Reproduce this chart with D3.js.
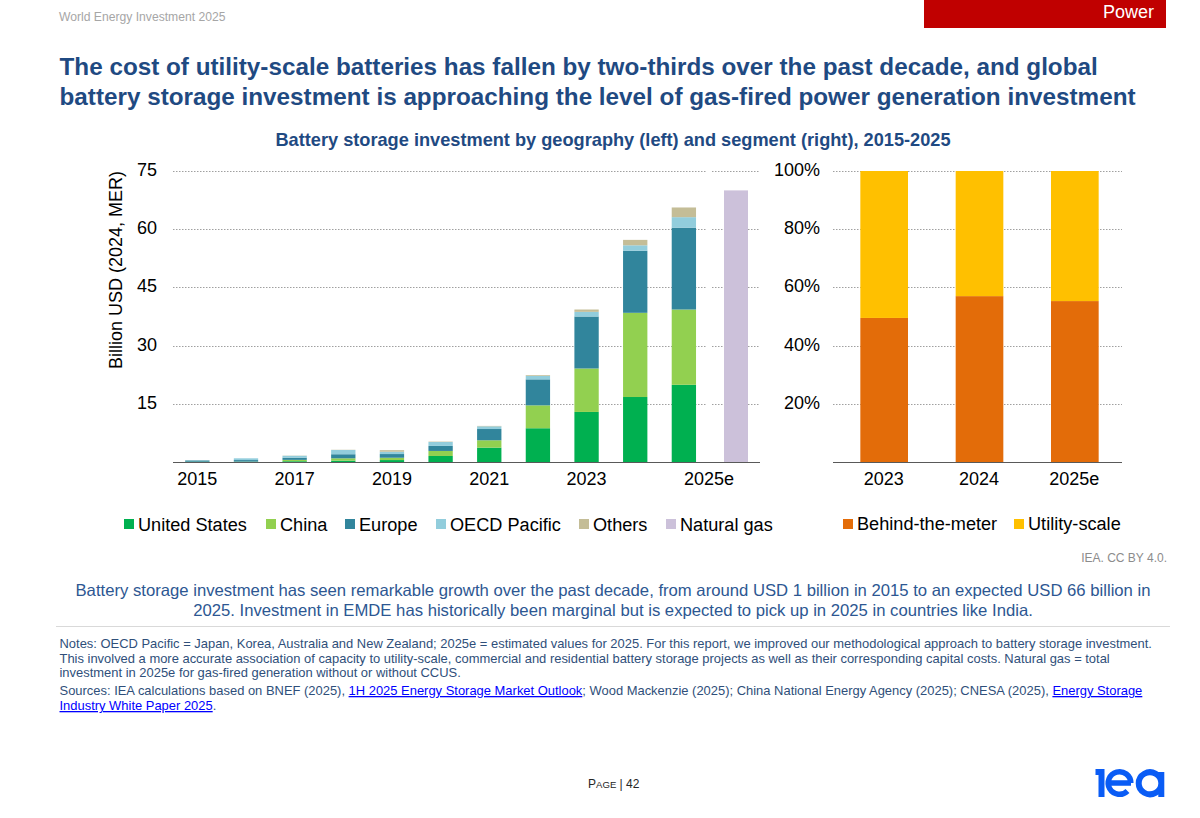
<!DOCTYPE html>
<html><head><meta charset="utf-8">
<script src="https://cdn.jsdelivr.net/npm/d3@7/dist/d3.min.js"></script>
<style>html,body{margin:0;padding:0;background:#fff}svg{display:block}text{font-family:"Liberation Sans",Arial,sans-serif}</style>
</head><body><svg id="c" width="1200" height="818"></svg>
<script>
const years=["2015","2016","2017","2018","2019","2020","2021","2022","2023","2024","2025e"];
const yearLabels=["2015","2017","2019","2021","2023","2025e"];
const unitedStates=[0.05,0.05,0.2,0.35,0.5,1.55,3.7,8.7,12.9,16.75,19.9];
const china=[0.02,0.05,0.35,0.6,0.6,1.3,1.9,5.9,11.2,21.7,19.4];
const europe=[0.33,0.4,0.55,1.05,0.95,1.3,2.9,6.7,13.4,16,21.1];
const oecdPacific=[0.05,0.45,0.5,1.1,0.6,1.0,0.7,0.9,1.2,1.4,2.7];
const others=[0,0,0.05,0.05,0.4,0.1,0.1,0.2,0.6,1.4,2.5];
const naturalGas=[70];
const leftTicks=[15,30,45,60,75];
const segYears=["2023","2024","2025e"];
const behindTheMeter=[49.5,57,55.3];
const utilityScale=[50.5,43,44.7];
const rightTicks=[20,40,60,80,100];
const geoNames=["United States","China","Europe","OECD Pacific","Others"];
const geoColors=["#00b050","#92d050","#31859c","#92cddc","#c4bd97"];
const gasColor="#ccc1da";
const segNames=["Behind-the-meter","Utility-scale"];
const segColors=["#e36c09","#ffc000"];
const geoSeries=[unitedStates,china,europe,oecdPacific,others];
const segSeries=[behindTheMeter,utilityScale];

const svg=d3.select("#c");
const ink="#000",navy="#1f4a82",leadC="#2d5792",noteC="#2f4f7a";
function txt(x,y,s,size,fill,opt={}){return svg.append("text").attr("x",x).attr("y",y).attr("font-size",size).attr("fill",fill)
  .attr("text-anchor",opt.a||"start").attr("font-weight",opt.b?"bold":"normal").text(s);}

// header
txt(59,21,"World Energy Investment 2025",12.15,"#a6a6a6");
svg.append("rect").attr("x",924).attr("y",0).attr("width",242).attr("height",28).attr("fill","#c00000");
txt(1154,18,"Power",18,"#fff",{a:"end"});
txt(59.5,75,"The cost of utility-scale batteries has fallen by two-thirds over the past decade, and global",24.27,navy,{b:1});
txt(59.5,105,"battery storage investment is approaching the level of gas-fired power generation investment",24.27,navy,{b:1});
txt(613,146,"Battery storage investment by geography (left) and segment (right), 2015-2025",18.2,navy,{b:1,a:"middle"});

// left chart
const y=d3.scaleLinear().domain([0,75]).range([462,171]);
const x=d3.scaleBand().domain(years).range([173,708.2]).paddingInner(0.5).paddingOuter(0.25);
const xGas=d3.scaleBand().domain(["Natural gas"]).range([724,748]);
const grid=svg.append("g");
function gridLines(ticks,sc,x0,x1){grid.append("g").selectAll("line").data(ticks).join("line")
  .attr("x1",x0).attr("x2",x1).attr("y1",d=>Math.round(sc(d))+.5).attr("y2",d=>Math.round(sc(d))+.5)
  .attr("stroke","#a0a0a0").attr("stroke-width",1).attr("stroke-dasharray","1.5 1.5");}
gridLines(leftTicks,y,173,707);gridLines(leftTicks,y,712,760);
const stacked=d3.stack().keys(d3.range(5)).value((d,k)=>geoSeries[k][d])(d3.range(years.length));
const gl=svg.append("g");
stacked.forEach((s,k)=>{gl.append("g").selectAll("rect").data(s).join("rect")
  .attr("x",(d,i)=>x(years[i])).attr("width",x.bandwidth())
  .attr("y",d=>y(d[1])).attr("height",d=>y(d[0])-y(d[1])).attr("fill",geoColors[k]);});
gl.selectAll(".gas").data(naturalGas).join("rect").attr("class","gas").attr("x",xGas("Natural gas")).attr("width",xGas.bandwidth())
  .attr("y",d=>y(d)).attr("height",d=>y(0)-y(d)).attr("fill",gasColor);
svg.append("line").attr("x1",173).attr("x2",760).attr("y1",462.5).attr("y2",462.5).attr("stroke","#595959").attr("stroke-width",1.2);
const tickSize=18;
svg.append("g").selectAll("text").data(leftTicks).join("text").attr("x",157).attr("y",d=>y(d)+5).attr("text-anchor","end")
  .attr("font-size",tickSize).attr("fill",ink).text(d=>d);
svg.append("g").selectAll("text").data(yearLabels).join("text")
  .attr("x",d=>d==="2025e"?(x("2025e")+x.bandwidth()/2+xGas("Natural gas")+xGas.bandwidth()/2)/2-1:x(d)+x.bandwidth()/2)
  .attr("y",485).attr("text-anchor","middle").attr("font-size",tickSize).attr("fill",ink).text(d=>d);
svg.append("text").attr("transform","translate(122,270) rotate(-90)").attr("text-anchor","middle").attr("font-size",18).attr("fill",ink).text("Billion USD (2024, MER)");

// right chart
const y2=d3.scaleLinear().domain([0,100]).range([462,171]);
const x2=d3.scaleBand().domain(segYears).range([836.5,1122.5]).paddingInner(0.5).paddingOuter(0.25);
gridLines(rightTicks,y2,833,1122);
const stacked2=d3.stack().keys([0,1]).value((d,k)=>segSeries[k][d])(d3.range(segYears.length));
const gr=svg.append("g");
stacked2.forEach((s,k)=>{gr.append("g").selectAll("rect").data(s).join("rect")
  .attr("x",(d,i)=>x2(segYears[i])).attr("width",x2.bandwidth())
  .attr("y",d=>y2(d[1])).attr("height",d=>y2(d[0])-y2(d[1])).attr("fill",segColors[k]);});
svg.append("line").attr("x1",833).attr("x2",1122).attr("y1",462.5).attr("y2",462.5).attr("stroke","#595959").attr("stroke-width",1.2);
svg.append("g").selectAll("text").data(rightTicks).join("text").attr("x",820).attr("y",d=>y2(d)+5).attr("text-anchor","end")
  .attr("font-size",tickSize).attr("fill",ink).text(d=>d+"%");
svg.append("g").selectAll("text").data(segYears).join("text").attr("x",d=>x2(d)+x2.bandwidth()/2-0.5).attr("y",485).attr("text-anchor","middle")
  .attr("font-size",tickSize).attr("fill",ink).text(d=>d);

// legends
const legLeft=[138,280,359,450,593,680];
geoNames.concat(["Natural gas"]).forEach((n,i)=>{
  svg.append("rect").attr("x",legLeft[i]-14).attr("y",519).attr("width",10).attr("height",10).attr("fill",i<5?geoColors[i]:gasColor);
  txt(legLeft[i],530.5,n,18.15,ink);
});
const legRight=[857,1028];
segNames.forEach((n,i)=>{
  svg.append("rect").attr("x",legRight[i]-14).attr("y",519).attr("width",10).attr("height",10).attr("fill",segColors[i]);
  txt(legRight[i],530,n,18.15,ink);
});
txt(1167,562,"IEA. CC BY 4.0.",12,"#8c8c8c",{a:"end"});

// lead text
txt(613,596,"Battery storage investment has seen remarkable growth over the past decade, from around USD 1 billion in 2015 to an expected USD 66 billion in",16.68,leadC,{a:"middle"});
txt(613,616,"2025. Investment in EMDE has historically been marginal but is expected to pick up in 2025 in countries like India.",16.68,leadC,{a:"middle"});
svg.append("line").attr("x1",56).attr("x2",1170).attr("y1",626.5).attr("y2",626.5).attr("stroke","#d9d9d9").attr("stroke-width",1);

// notes
const ns=12.94;
txt(59.5,648,"Notes: OECD Pacific = Japan, Korea, Australia and New Zealand; 2025e = estimated values for 2025. For this report, we improved our methodological approach to battery storage investment.",ns,noteC);
txt(59.5,663,"This involved a more accurate association of capacity to utility-scale, commercial and residential battery storage projects as well as their corresponding capital costs. Natural gas = total",ns,noteC);
txt(59.5,677,"investment in 2025e for gas-fired generation without or without CCUS.",ns,noteC);
const src=svg.append("text").attr("x",59.5).attr("y",695).attr("font-size",ns).attr("fill",noteC);
src.append("tspan").text("Sources: IEA calculations based on BNEF (2025), ");
src.append("tspan").attr("fill","#0000ff").attr("text-decoration","underline").text("1H 2025 Energy Storage Market Outlook");
src.append("tspan").text("; Wood Mackenzie (2025); China National Energy Agency (2025); CNESA (2025), ");
src.append("tspan").attr("fill","#0000ff").attr("text-decoration","underline").text("Energy Storage");
const src2=svg.append("text").attr("x",59.5).attr("y",710).attr("font-size",ns).attr("fill",noteC);
src2.append("tspan").attr("fill","#0000ff").attr("text-decoration","underline").text("Industry White Paper 2025");
src2.append("tspan").text(".");

// footer
const pg=svg.append("text").attr("x",588).attr("y",788).attr("fill","#262626").attr("font-size",12);
pg.append("tspan").attr("font-size",12).text("P");pg.append("tspan").attr("font-size",9.6).text("AGE");pg.append("tspan").text(" | 42");

// logo
const logoBlue="#0a5cf5";
svg.append("path").attr("fill",logoBlue).attr("d","M1095.5 769H1104.5V797H1098.5V775H1095.5Z");
svg.append("path").attr("fill","none").attr("stroke",logoBlue).attr("stroke-width",5.5).attr("d","M1108 783H1131M1130.8 783A11.3 11.3 0 1 0 1127.5 791");
svg.append("path").attr("fill","none").attr("stroke",logoBlue).attr("stroke-width",6).attr("d","M1161.3 783A11.3 11 0 1 0 1161.3 783.5M1161.3 772V797");
</script></body></html>
